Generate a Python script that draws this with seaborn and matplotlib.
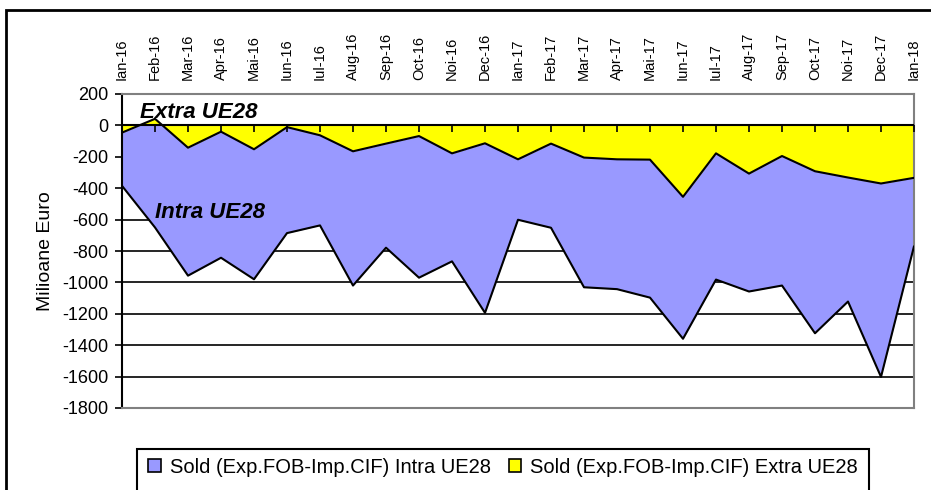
import matplotlib
matplotlib.use('Agg')
import matplotlib.pyplot as plt
from matplotlib.patches import Patch, Rectangle
import numpy as np
import pandas as pd
import seaborn as sns

sns.set_style('white')
plt.rcParams['font.family'] = ['Liberation Sans', 'DejaVu Sans']
plt.rcParams['axes.unicode_minus'] = False
for k in ['text.color', 'axes.labelcolor', 'xtick.color', 'ytick.color']:
    plt.rcParams[k] = 'black'

luni = ['Ian-16', 'Feb-16', 'Mar-16', 'Apr-16', 'Mai-16', 'Iun-16', 'Iul-16',
        'Aug-16', 'Sep-16', 'Oct-16', 'Noi-16', 'Dec-16', 'Ian-17', 'Feb-17',
        'Mar-17', 'Apr-17', 'Mai-17', 'Iun-17', 'Iul-17', 'Aug-17', 'Sep-17',
        'Oct-17', 'Noi-17', 'Dec-17', 'Ian-18']
# sold extra UE28 (mil. euro)
extra = [-46, 42, -142, -40, -152, -11, -63, -165, -116, -68, -178, -114,
         -216, -116, -205, -216, -218, -455, -178, -307, -195, -292, -332,
         -370, -334]
# sold intra UE28 (mil. euro)
intra = [-339, -692, -815, -803, -828, -675, -574, -855, -663, -902, -688,
         -1080, -385, -536, -826, -827, -879, -904, -804, -751, -825, -1032,
         -790, -1232, -436]

df = pd.DataFrame({'luna': luni, 'extra': extra, 'intra': intra})
df['x'] = np.arange(len(df))
df['total'] = df['extra'] + df['intra']

blue = '#9999FF'
yellow = '#FFFF00'

fig = plt.figure(figsize=(9.31, 4.9), dpi=100)
ax = fig.add_axes([122/931, 1 - 408/490, 792/931, 314/490])

ax.fill_between(df['x'], df['extra'], df['total'], color=blue, lw=0, zorder=2)
ax.fill_between(df['x'], 0, df['extra'], color=yellow, lw=0, zorder=2)
sns.lineplot(data=df, x='x', y='extra', color='black', lw=1.5, ax=ax, zorder=4)
sns.lineplot(data=df, x='x', y='total', color='black', lw=1.5, ax=ax, zorder=4)
ax.axhline(0, color='black', lw=1.5, zorder=5)
ax.plot(df['x'], np.zeros(len(df)), ls='none', marker=3, ms=5, mew=1.2,
        color='black', zorder=5)

ax.set_xlim(0, len(df) - 1)
ax.set_ylim(-1800, 200)
ax.set_yticks(np.arange(-1800, 201, 200))
ax.yaxis.grid(True, color='black', lw=1.2)
ax.set_axisbelow(True)

ax.xaxis.tick_top()
ax.set_xticks(df['x'])
ax.set_xticklabels(df['luna'], rotation=90, fontsize=10.5)
ax.tick_params(axis='x', length=0, pad=10)
ax.tick_params(axis='y', labelsize=13, length=5, width=1.2, direction='out',
               color='black', left=True, pad=5)
ax.set_xlabel('')
ax.set_ylabel('Milioane Euro', fontsize=14, labelpad=6)

for s in ['top', 'right', 'bottom']:
    ax.spines[s].set_color('#808080')
    ax.spines[s].set_linewidth(1.5)
ax.spines['left'].set_color('black')
ax.spines['left'].set_linewidth(1.5)

ax.text(0.55, 85, 'Extra UE28', fontsize=16, fontweight='bold',
        fontstyle='italic', va='center', zorder=6)
ax.text(1.0, -555, 'Intra UE28', fontsize=16, fontweight='bold',
        fontstyle='italic', va='center', zorder=6)

# outer chart frame
fig.patches.append(Rectangle((6/931, -0.2), 2, 1.2 - 10/490, fill=False,
                             ec='black', lw=2, transform=fig.transFigure,
                             figure=fig))
# legend frame
fig.patches.append(Rectangle((137/931, -0.2), 732/931, 0.2 + 1 - 449/490,
                             fill=False, ec='black', lw=1.5,
                             transform=fig.transFigure, figure=fig))

handles = [Patch(fc=blue, ec='black', lw=1.2),
           Patch(fc=yellow, ec='black', lw=1.2)]
labels = ['Sold (Exp.FOB-Imp.CIF) Intra UE28',
          'Sold (Exp.FOB-Imp.CIF) Extra UE28']
fig.legend(handles, labels, loc='center', bbox_to_anchor=(503/931, 1 - 467/490),
           ncol=2, frameon=False, fontsize=14.5, handlelength=0.6,
           handleheight=0.6, handletextpad=0.45, columnspacing=0.9)

fig.savefig('out.png', dpi=100)
